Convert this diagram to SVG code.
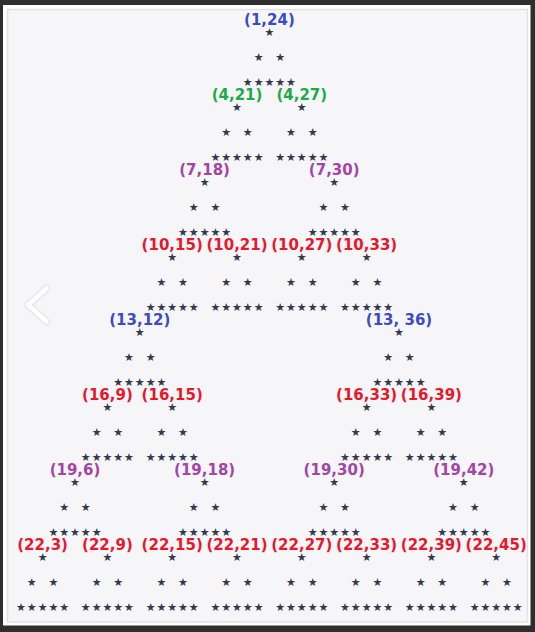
<svg xmlns="http://www.w3.org/2000/svg" xmlns:xlink="http://www.w3.org/1999/xlink" width="535" height="632" viewBox="0 0 535 632">
<style>
.star{font-family:"DejaVu Sans",sans-serif;font-size:11px;fill:#343a4e;text-anchor:middle}
.lbl{font-family:"DejaVu Sans",sans-serif;font-weight:bold;font-size:15px;text-anchor:middle}
.b{fill:#3b4bc4}.g{fill:#1daa4a}.p{fill:#a445a6}.r{fill:#e8182b}
</style>
<defs>
<g id="tri" class="star">
<text x="0" y="4">★</text>
<text x="-10.8 10.8" y="29">★★</text>
<text x="-21.6 -10.8 0 10.8 21.6" y="54">★★★★★</text>
</g>
<filter id="sh" x="-50%" y="-50%" width="200%" height="200%"><feGaussianBlur stdDeviation="1.2"/></filter>
</defs>
<rect x="0" y="0" width="535" height="632" fill="#2e2e2e"/>
<rect x="3" y="5" width="527.5" height="620.5" fill="#ffffff"/>
<rect x="7.5" y="9.5" width="520" height="612.5" fill="#f6f6f9" stroke="#e2e2e6" stroke-width="1.5"/>
<g id="chevron">
<polyline points="46.5,288.5 28,305 46.5,321.5" fill="none" stroke="#d0d1d6" stroke-width="6" stroke-linecap="round" stroke-linejoin="round" filter="url(#sh)" opacity="0.7"/>
<polyline points="46.5,288.5 28,305 46.5,321.5" fill="none" stroke="#ffffff" stroke-width="4.5" stroke-linecap="round" stroke-linejoin="round"/>
</g>
<g id="nodes">
<g id="n1-24" transform="translate(269.4,31.7)"><use href="#tri"/><text class="lbl b" y="-7">(1,24)</text></g>
<g id="n4-21" transform="translate(237,106.7)"><use href="#tri"/><text class="lbl g" y="-7">(4,21)</text></g>
<g id="n4-27" transform="translate(301.8,106.7)"><use href="#tri"/><text class="lbl g" y="-7">(4,27)</text></g>
<g id="n7-18" transform="translate(204.6,181.7)"><use href="#tri"/><text class="lbl p" y="-7">(7,18)</text></g>
<g id="n7-30" transform="translate(334.2,181.7)"><use href="#tri"/><text class="lbl p" y="-7">(7,30)</text></g>
<g id="n10-15" transform="translate(172.2,256.7)"><use href="#tri"/><text class="lbl r" y="-7">(10,15)</text></g>
<g id="n10-21" transform="translate(237,256.7)"><use href="#tri"/><text class="lbl r" y="-7">(10,21)</text></g>
<g id="n10-27" transform="translate(301.8,256.7)"><use href="#tri"/><text class="lbl r" y="-7">(10,27)</text></g>
<g id="n10-33" transform="translate(366.6,256.7)"><use href="#tri"/><text class="lbl r" y="-7">(10,33)</text></g>
<g id="n13-12" transform="translate(139.8,331.7)"><use href="#tri"/><text class="lbl b" y="-7">(13,12)</text></g>
<g id="n13-36" transform="translate(399,331.7)"><use href="#tri"/><text class="lbl b" y="-7">(13, 36)</text></g>
<g id="n16-9" transform="translate(107.4,406.7)"><use href="#tri"/><text class="lbl r" y="-7">(16,9)</text></g>
<g id="n16-15" transform="translate(172.2,406.7)"><use href="#tri"/><text class="lbl r" y="-7">(16,15)</text></g>
<g id="n16-33" transform="translate(366.6,406.7)"><use href="#tri"/><text class="lbl r" y="-7">(16,33)</text></g>
<g id="n16-39" transform="translate(431.4,406.7)"><use href="#tri"/><text class="lbl r" y="-7">(16,39)</text></g>
<g id="n19-6" transform="translate(75,481.7)"><use href="#tri"/><text class="lbl p" y="-7">(19,6)</text></g>
<g id="n19-18" transform="translate(204.6,481.7)"><use href="#tri"/><text class="lbl p" y="-7">(19,18)</text></g>
<g id="n19-30" transform="translate(334.2,481.7)"><use href="#tri"/><text class="lbl p" y="-7">(19,30)</text></g>
<g id="n19-42" transform="translate(463.8,481.7)"><use href="#tri"/><text class="lbl p" y="-7">(19,42)</text></g>
<g id="n22-3" transform="translate(42.6,556.7)"><use href="#tri"/><text class="lbl r" y="-7">(22,3)</text></g>
<g id="n22-9" transform="translate(107.4,556.7)"><use href="#tri"/><text class="lbl r" y="-7">(22,9)</text></g>
<g id="n22-15" transform="translate(172.2,556.7)"><use href="#tri"/><text class="lbl r" y="-7">(22,15)</text></g>
<g id="n22-21" transform="translate(237,556.7)"><use href="#tri"/><text class="lbl r" y="-7">(22,21)</text></g>
<g id="n22-27" transform="translate(301.8,556.7)"><use href="#tri"/><text class="lbl r" y="-7">(22,27)</text></g>
<g id="n22-33" transform="translate(366.6,556.7)"><use href="#tri"/><text class="lbl r" y="-7">(22,33)</text></g>
<g id="n22-39" transform="translate(431.4,556.7)"><use href="#tri"/><text class="lbl r" y="-7">(22,39)</text></g>
<g id="n22-45" transform="translate(496.2,556.7)"><use href="#tri"/><text class="lbl r" y="-7">(22,45)</text></g>
</g>
<g id="connectors"/>
</svg>
